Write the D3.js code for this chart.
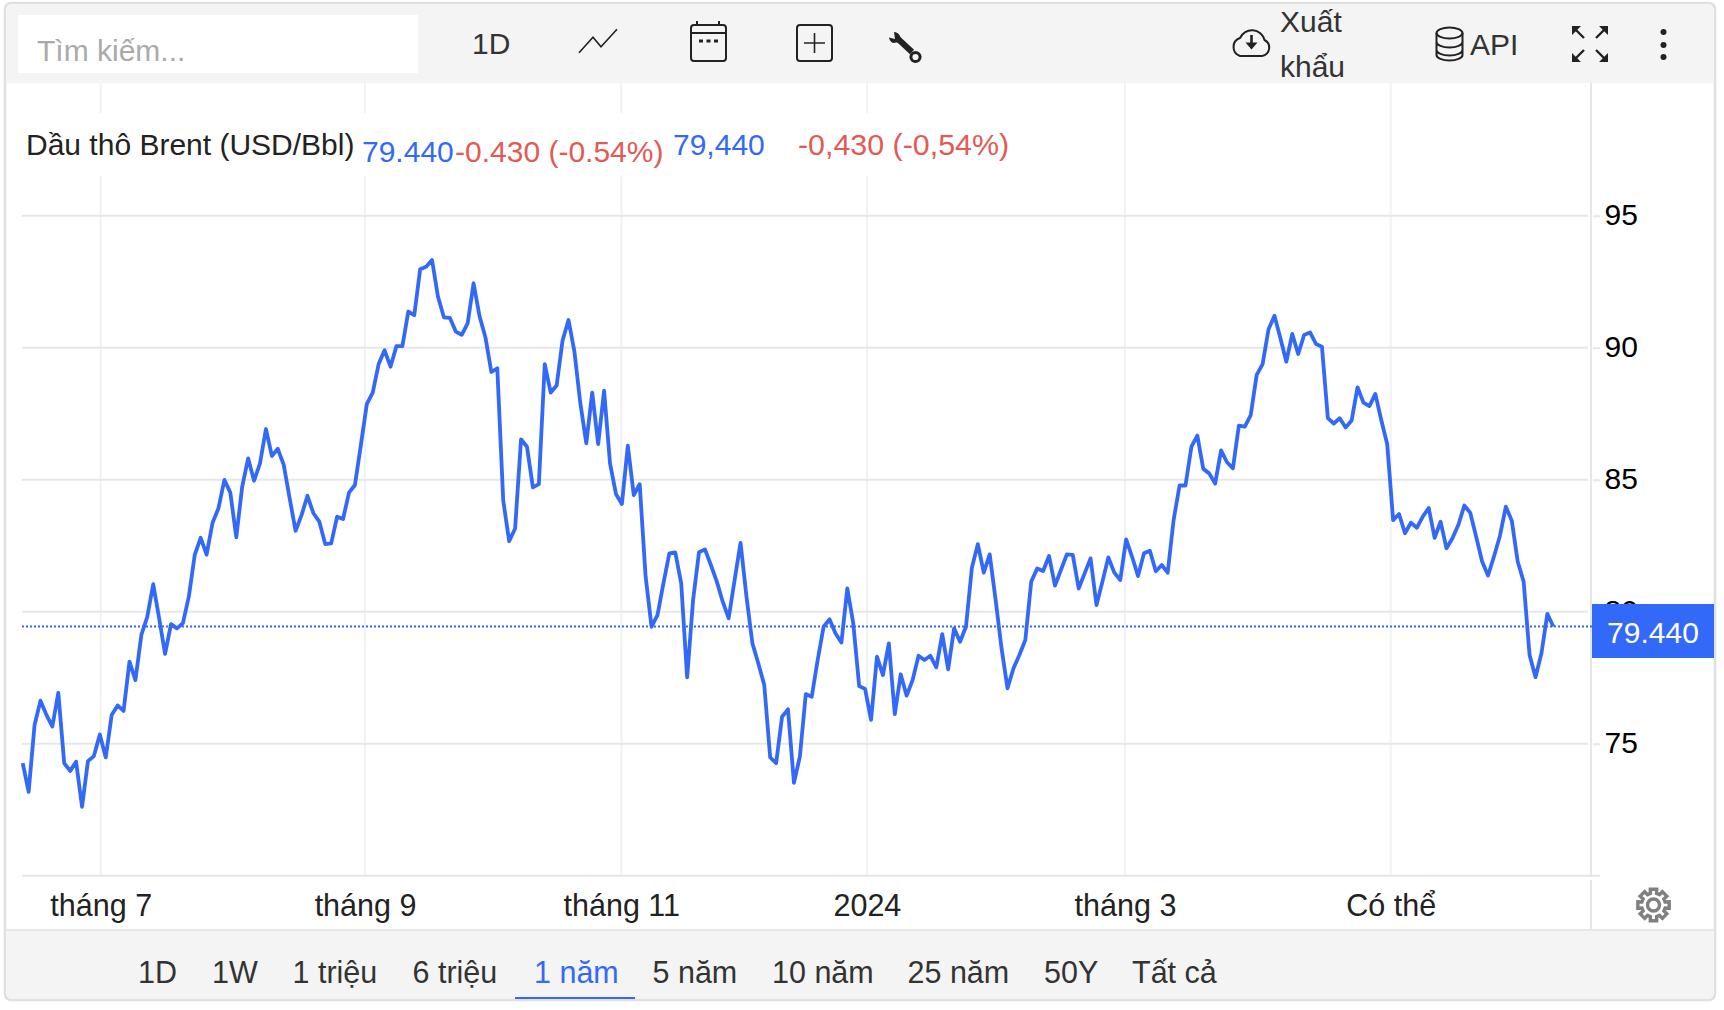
<!DOCTYPE html>
<html lang="vi">
<head>
<meta charset="utf-8">
<title>Dầu thô Brent</title>
<script src="https://cdn.jsdelivr.net/npm/d3@7"></script>
<style>
  html, body { margin: 0; padding: 0; background: #fff; }
  svg { display: block; }
  text { font-family: "Liberation Sans", Arial, sans-serif; }
  .axis path { display: none; }
</style>
</head>
<body>
<div id="chart"></div>
<script>
// Brent closes, one per trading day
const closes = [
  74.26, 73.18, 75.71, 76.63, 76.09, 75.65, 76.93, 74.26, 73.97, 74.32,
  72.61, 74.34, 74.53, 75.35, 74.48, 76.09, 76.45, 76.24, 78.11, 77.41,
  79.12, 79.81, 81.04, 79.75, 78.40, 79.53, 79.37, 79.56, 80.57, 82.15,
  82.80, 82.16, 83.37, 83.92, 84.99, 84.51, 82.82, 84.74, 85.81, 84.96,
  85.62, 86.92, 85.90, 86.17, 85.56, 84.29, 83.06, 83.66, 84.39, 83.73,
  83.41, 82.56, 82.59, 83.60, 83.51, 84.51, 84.80, 86.31, 87.86, 88.30,
  89.38, 89.90, 89.28, 90.06, 90.06, 91.37, 91.23, 92.97, 93.07, 93.32,
  91.93, 91.15, 91.13, 90.61, 90.49, 90.92, 92.44, 91.20, 90.39, 89.08,
  89.22, 84.21, 82.67, 83.15, 86.53, 86.25, 84.71, 84.83, 89.38, 88.30,
  88.57, 90.27, 91.05, 89.85, 87.89, 86.38, 88.30, 86.35, 88.37, 85.62,
  84.46, 84.08, 86.29, 84.42, 84.83, 81.33, 79.43, 79.87, 81.07, 82.21,
  82.25, 81.07, 77.51, 80.44, 82.25, 82.36, 81.77, 81.14, 80.38, 79.75,
  81.20, 82.61, 80.57, 78.80, 78.04, 77.22, 74.48, 74.26, 76.02, 76.30,
  73.52, 74.51, 76.88, 76.78, 78.17, 79.43, 79.71, 79.18, 78.83, 80.88,
  79.56, 77.18, 77.07, 75.90, 78.30, 77.60, 78.80, 76.12, 77.63, 76.82,
  77.41, 78.33, 78.17, 78.33, 77.89, 79.15, 77.82, 79.37, 78.86, 79.43,
  81.67, 82.56, 81.48, 82.17, 80.44, 78.61, 77.10, 77.85, 78.36, 78.93,
  81.14, 81.64, 81.54, 82.11, 80.99, 81.58, 82.17, 82.15, 80.88, 81.45,
  82.02, 80.25, 81.14, 82.06, 81.48, 81.20, 82.74, 82.08, 81.35, 82.21,
  82.31, 81.53, 81.77, 81.48, 83.47, 84.78, 84.78, 86.25, 86.67, 85.41,
  85.24, 84.85, 86.11, 85.66, 85.43, 87.05, 87.01, 87.45, 88.97, 89.38,
  90.70, 91.21, 90.36, 89.47, 90.52, 89.76, 90.48, 90.58, 90.14, 90.04,
  87.33, 87.13, 87.33, 86.98, 87.24, 88.50, 87.92, 87.79, 88.25, 87.26,
  86.35, 83.47, 83.70, 82.97, 83.37, 83.18, 83.60, 83.93, 82.80, 83.41,
  82.40, 82.78, 83.29, 84.02, 83.75, 82.84, 81.90, 81.37, 82.09, 82.87,
  83.98, 83.45, 81.90, 81.14, 78.36, 77.52, 78.42, 79.92, 79.44
];
const lastPrice = 79.44;
const priceTicks = [75, 80, 85, 90, 95];
// month starts fall between trading days, so these are fractional day numbers
const monthDays = [13.15, 57.7, 100.9, 142.3, 185.8, 230.6];
const monthLabels = ["tháng 7", "tháng 9", "tháng 11", "2024", "tháng 3", "Có thể"];
const ranges = ["1D", "1W", "1 triệu", "6 triệu", "1 năm", "5 năm", "10 năm", "25 năm", "50Y", "Tất cả"];
const rangeLeft = [138, 212, 292.5, 412.5, 534, 652.5, 772, 907.5, 1044, 1132];
const activeRange = "1 năm";

const BLUE = "#3369f8";
const RED = "#e25a53";
const INK = "#222";
const LABEL_SIZE = 30.5;
const width = 1724, height = 1010;
const plotLeft = 22, plotRight = 1591, plotBottom = 875.7;

const svg = d3.select("#chart").append("svg")
  .attr("width", width)
  .attr("height", height);

const x = d3.scaleLinear().domain([0, closes.length - 1]).range([22.7, 1553.3]);
const y = d3.scaleLinear().domain([70, 95]).range([plotBottom, 215.7]);

// frame and bands
svg.append("rect").attr("x", 5).attr("y", 3).attr("width", 1710).attr("height", 997).attr("rx", 6)
  .attr("fill", "#fff").attr("stroke", "#e0e0e0").attr("stroke-width", 2.5);
svg.append("path").attr("d", "M6.3,83V10a6,6 0 0 1 6,-6H1707.7a6,6 0 0 1 6,6V83Z").attr("fill", "#f4f4f4");
svg.append("path").attr("d", "M6.3,930V993a6,6 0 0 0 6,6H1707.7a6,6 0 0 0 6,-6V930Z").attr("fill", "#f4f4f4");
svg.append("line").attr("x1", 6).attr("x2", 1714).attr("y1", 930).attr("y2", 930)
  .attr("stroke", "#e6e6e6").attr("stroke-width", 2);

// grid
const grid = svg.append("g");
grid.selectAll(".vgrid").data(monthDays).join("line")
  .attr("class", "vgrid")
  .attr("x1", d => x(d)).attr("x2", d => x(d))
  .attr("y1", 83).attr("y2", plotBottom)
  .attr("stroke", "#eff2f6").attr("stroke-width", 2);
grid.selectAll(".hgrid").data(priceTicks).join("line")
  .attr("class", "hgrid")
  .attr("x1", plotLeft).attr("x2", 1588)
  .attr("y1", d => y(d)).attr("y2", d => y(d))
  .attr("stroke", "#e7e7e7").attr("stroke-width", 2);
grid.append("line").attr("x1", plotLeft).attr("x2", 1600).attr("y1", plotBottom).attr("y2", plotBottom)
  .attr("stroke", "#e6e6e6").attr("stroke-width", 2);
grid.append("line").attr("x1", plotRight).attr("x2", plotRight).attr("y1", 83).attr("y2", 877)
  .attr("stroke", "#e6e6e6").attr("stroke-width", 2);
grid.append("line").attr("x1", plotRight).attr("x2", plotRight).attr("y1", 880).attr("y2", 929)
  .attr("stroke", "#e6e6e6").attr("stroke-width", 2);

// price axis
const yAxis = svg.append("g").attr("class", "axis")
  .attr("transform", `translate(1593,0)`)
  .call(d3.axisRight(y).tickValues(priceTicks).tickSize(7).tickPadding(4.5));
yAxis.selectAll("line").attr("stroke", "#e7e7e7").attr("stroke-width", 2);
yAxis.selectAll("text").attr("font-size", 30).attr("fill", "#000")
  .attr("font-family", "Liberation Sans").attr("dy", "0.3em");

// month axis
const xAxis = svg.append("g").attr("class", "axis")
  .attr("transform", `translate(0,${plotBottom})`)
  .call(d3.axisBottom(x).tickValues(monthDays).tickSize(0).tickPadding(0)
    .tickFormat((d, i) => monthLabels[i]));
xAxis.selectAll("text").attr("font-size", LABEL_SIZE).attr("fill", INK)
  .attr("font-family", "Liberation Sans").attr("y", 40).attr("dy", 0);

// title strip hides the vertical grid behind the quote
svg.append("rect").attr("x", 22).attr("y", 113).attr("width", 990).attr("height", 63).attr("fill", "#fff");
const quote = svg.append("g").attr("font-size", 30);
quote.append("text").attr("x", 26).attr("y", 155).attr("fill", INK).text("Dầu thô Brent (USD/Bbl)");
quote.append("text").attr("x", 362).attr("y", 162).attr("fill", BLUE).text("79.440");
quote.append("text").attr("x", 455).attr("y", 162).attr("fill", RED).text("-0.430 (-0.54%)");
quote.append("text").attr("x", 673).attr("y", 155).attr("fill", BLUE).text("79,440");
quote.append("text").attr("x", 798).attr("y", 155).attr("fill", RED).attr("font-size", 30.4).text("-0,430 (-0,54%)");

// price line
const line = d3.line().x((d, i) => x(i)).y(d => y(d));
svg.append("line").attr("x1", plotLeft).attr("x2", 1592)
  .attr("y1", y(lastPrice)).attr("y2", y(lastPrice))
  .attr("stroke", BLUE).attr("stroke-width", 2).attr("stroke-dasharray", "2 2");
svg.append("path").datum(closes)
  .attr("d", line)
  .attr("fill", "none")
  .attr("stroke", BLUE)
  .attr("stroke-width", 3.8)
  .attr("stroke-linejoin", "round");

// last price flag, sits over the 80 label
svg.append("rect").attr("x", 1592).attr("y", 604).attr("width", 122).attr("height", 54).attr("fill", BLUE);
svg.append("text").attr("x", 1653).attr("y", 642.5).attr("text-anchor", "middle")
  .attr("fill", "#fff").attr("font-size", 30).text(d3.format(".3f")(lastPrice));

// top toolbar
const bar = svg.append("g").attr("font-size", 30).attr("fill", "#333");
bar.append("rect").attr("x", 18).attr("y", 15).attr("width", 400).attr("height", 58).attr("fill", "#fff");
bar.append("text").attr("x", 37).attr("y", 61).attr("fill", "#aaa").text("Tìm kiếm...");
bar.append("text").attr("x", 472).attr("y", 54).text("1D");
bar.append("text").attr("x", 1280).attr("y", 32).text("Xuất");
bar.append("text").attr("x", 1280).attr("y", 77).text("khẩu");
bar.append("text").attr("x", 1470).attr("y", 55).text("API");

const icons = svg.append("g").attr("fill", "none").attr("stroke", "#222").attr("stroke-width", 2);
// line chart
icons.append("path").attr("d", "M579,52.7L593,37.3L601,46.7L617,29.3").attr("stroke-width", 1.6);
// calendar
icons.append("rect").attr("x", 691).attr("y", 25).attr("width", 35).attr("height", 36).attr("rx", 3);
icons.append("path").attr("d", "M691,33H726M697,21V25M719,21V25");
icons.append("path").attr("d", "M699,41H703M706.5,41H710.5M714,41H718").attr("stroke-width", 3);
// add box
icons.append("rect").attr("x", 797).attr("y", 25).attr("width", 35).attr("height", 36).attr("rx", 3);
icons.append("path").attr("d", "M804,43H825M814.5,33V53").attr("stroke-width", 1.6);
// wrench
icons.append("path").attr("d", "M897,38L912,52").attr("stroke-width", 6);
icons.append("circle").attr("cx", 915.5).attr("cy", 57).attr("r", 4.6).attr("stroke-width", 3);
icons.append("path").attr("d", "M894,32A7,7 0 0 1 900,42L893,43A7,7 0 0 1 889,37.5L895,39Z").attr("fill", "#222").attr("stroke", "none");
// cloud
icons.append("path").attr("d", "M1240,56H1262A8.5,8.5 0 0 0 1264.5,40A13,13 0 0 0 1240,38A9.5,9.5 0 0 0 1240,56Z");
icons.append("path").attr("d", "M1251.5,35V45").attr("stroke-width", 2.6);
icons.append("path").attr("d", "M1245.5,42.5H1257.5L1251.5,49.5Z").attr("fill", "#222").attr("stroke", "none");
// database
icons.append("ellipse").attr("cx", 1449.5).attr("cy", 33).attr("rx", 13).attr("ry", 5.5);
icons.append("path").attr("d", "M1436.5,33V55C1436.5,58 1442.5,60.5 1449.5,60.5C1456.5,60.5 1462.5,58 1462.5,55V33M1436.5,42C1436.5,45 1442.5,47.5 1449.5,47.5C1456.5,47.5 1462.5,45 1462.5,42M1436.5,50C1436.5,53 1442.5,55.5 1449.5,55.5C1456.5,55.5 1462.5,53 1462.5,50");
// fullscreen, four corner arrows
icons.append("path").attr("d",
  "M1572,26H1581L1572,35Z" +
  "M1608,26H1599L1608,35Z" +
  "M1572,62H1581L1572,53Z" +
  "M1608,62H1599L1608,53Z")
  .attr("fill", "#222").attr("stroke", "none");
icons.append("path").attr("d", "M1575,29L1584,38M1605,29L1596,38M1575,59L1584,50M1605,59L1596,50").attr("stroke-width", 2.4);
// more
icons.selectAll(".dot").data([32, 45, 57]).join("circle")
  .attr("class", "dot").attr("cx", 1663.5).attr("cy", d => d).attr("r", 3).attr("fill", "#222").attr("stroke", "none");
// settings gear
const gearPts = [];
d3.range(8).forEach(k => {
  const a = k * Math.PI / 4 - Math.PI / 2;
  [[-0.26, 12], [-0.2, 16], [0.2, 16], [0.26, 12]].forEach(([da, r]) => {
    gearPts.push([1653.5 + r * Math.cos(a + da), 905 + r * Math.sin(a + da)]);
  });
});
svg.append("path").attr("d", d3.line().curve(d3.curveLinearClosed)(gearPts))
  .attr("fill", "none").attr("stroke", "#808080").attr("stroke-width", 3.4);
svg.append("circle").attr("cx", 1653.5).attr("cy", 905).attr("r", 6)
  .attr("fill", "none").attr("stroke", "#808080").attr("stroke-width", 3.4);

// range buttons
svg.append("g").selectAll("text").data(ranges).join("text")
  .attr("x", (d, i) => rangeLeft[i])
  .attr("y", 983)
  .attr("font-size", LABEL_SIZE)
  .attr("fill", d => d === activeRange ? BLUE : "#333")
  .text(d => d);
svg.append("line").attr("x1", 515).attr("x2", 635).attr("y1", 998).attr("y2", 998)
  .attr("stroke", BLUE).attr("stroke-width", 2);
</script>
</body>
</html>
